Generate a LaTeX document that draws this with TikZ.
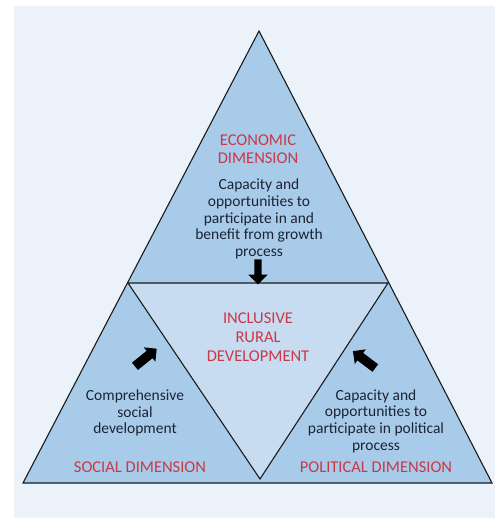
\documentclass[tikz,border=0pt]{standalone}
\usepackage{fontspec}
\setmainfont{Carlito}
\usetikzlibrary{shapes.arrows}
\definecolor{panel}{HTML}{ECF2F9}
\definecolor{outerblue}{HTML}{A9CBEA}
\definecolor{innerblue}{HTML}{C8DCF1}
\definecolor{redtxt}{HTML}{C83848}
\definecolor{bodytxt}{HTML}{1C2333}
\definecolor{edge}{HTML}{1A1A1A}
\tikzset{
  heading/.style={text=redtxt, align=center, font=\fontsize{16.5}{18}\selectfont, inner sep=0pt},
  bodytext/.style={text=bodytxt, align=center, font=\fontsize{15.5}{16.6}\selectfont, inner sep=0pt},
  blockarrow/.style={single arrow, fill=black, draw=none, inner sep=#1, 
     single arrow head indent=0pt},
  tri/.style={draw=edge, line width=1.1pt, line join=miter}
}
\begin{document}
\begin{tikzpicture}[x=1pt,y=-1pt]
\useasboundingbox (0,0) rectangle (495,518);
\fill[panel] (14,6) rectangle (495,518);
% big triangle
\coordinate (apex) at (259,31);
\coordinate (bl) at (23,483);
\coordinate (br) at (492,483);
\coordinate (il) at (128,283);
\coordinate (ir) at (388,283);
\coordinate (ib) at (260,479);
\filldraw[tri, fill=outerblue] (apex) -- (bl) -- (br) -- cycle;
\filldraw[tri, fill=innerblue] (il) -- (ir) -- (ib) -- cycle;
% texts
\node[heading] (eco) at (258,149) {ECONOMIC\\DIMENSION};
\node[bodytext] (ecotxt) at (259,219) {Capacity and\\opportunities to\\participate in and\\benefit from growth\\process};
\node[heading, font=\fontsize{16.5}{19}\selectfont] (irc) at (258,337) {INCLUSIVE\\RURAL\\DEVELOPMENT};
\node[bodytext] (soctxt) at (135,413) {Comprehensive\\social\\development};
\node[heading] (soc) at (140,467) {SOCIAL DIMENSION};
\node[bodytext] (poltxt) at (376,421) {Capacity and\\opportunities to\\participate in political\\process};
\node[heading] (pol) at (376,467) {POLITICAL DIMENSION};
% arrows
\node[blockarrow=3.5pt, single arrow head extend=6pt, minimum height=25pt, rotate=-90] (a1) at (258,270) {};
\node[blockarrow=4.5pt, single arrow head extend=4.5pt, minimum height=28pt, rotate=39] (a2) at (144,359) {};
\node[blockarrow=4.5pt, single arrow head extend=4.5pt, minimum height=28pt, rotate=143] (a3) at (366,361) {};
\end{tikzpicture}
\end{document}
